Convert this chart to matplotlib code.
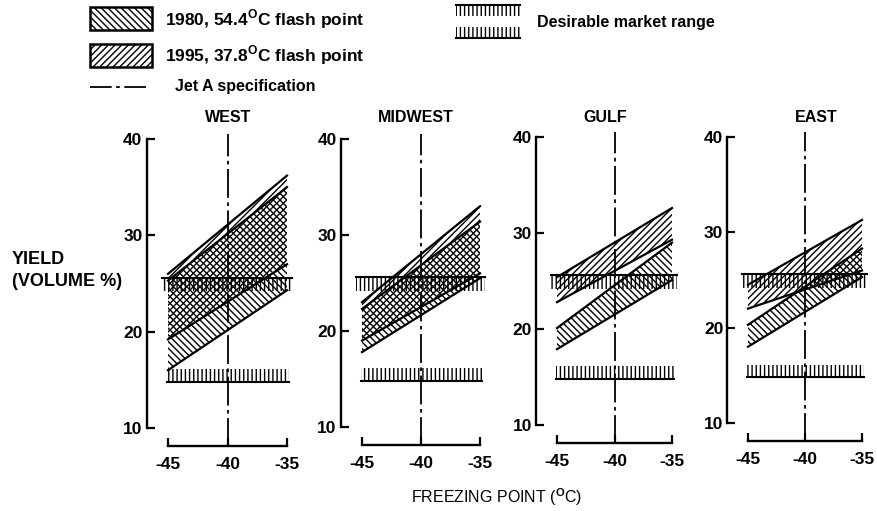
import matplotlib
matplotlib.use("Agg")
import matplotlib.pyplot as plt
from matplotlib.patches import Polygon, Rectangle

plt.rcParams["font.family"] = ["Liberation Sans", "DejaVu Sans"]
plt.rcParams["font.weight"] = "bold"
plt.rcParams["mathtext.fontset"] = "custom"
plt.rcParams["mathtext.rm"] = "Liberation Sans"
plt.rcParams["mathtext.bf"] = "Liberation Sans:bold"
plt.rcParams["axes.unicode_minus"] = False
plt.rcParams["hatch.linewidth"] = 1.0

# --- data -------------------------------------------------------------------
regions = ["WEST", "MIDWEST", "GULF", "EAST"]
freeze_ends = [-45, -35]          # freezing point (degC) where the bands start / end
x_ticks = [-45, -40, -35]
y_ticks = [10, 20, 30, 40]
jet_a_spec = -40

# yield (volume %) at -45 and -35 degC, lower / upper edge of each band
y1980_low = [(16.0, 24.3), (17.8, 25.5), (17.9, 25.1), (18.0, 25.3)]
y1980_high = [(25.3, 35.0), (22.3, 31.4), (20.1, 29.0), (20.3, 28.3)]
y1995_low = [(19.2, 27.0), (19.0, 26.0), (22.8, 29.3), (22.0, 26.0)]
y1995_high = [(26.0, 36.2), (23.0, 33.0), (25.4, 32.6), (24.5, 31.3)]

# desirable market range (volume %)
market_upper = (24.2, 25.6)
market_lower = (14.8, 16.1)

# --- layout -----------------------------------------------------------------
W, H = 877, 511
XLIM = (-46.8, -34.4)
# pixel positions of x=-45, x=-35, y=40, y=10 for every panel
panel_px = [(168, 287, 139, 428), (362, 480, 139, 427),
            (557, 672, 137, 425), (748, 862, 137, 423)]
title_x = [228, 416, 605, 816]
JET_DASH = (16, 2.5, 2, 2.5)
H1980 = "\\\\\\\\\\"
H1995 = "/////"

fig = plt.figure(figsize=(W / 100, H / 100), dpi=100)


def draw_band(ax, low, high, hatch):
    pts = [(freeze_ends[0], low[0]), (freeze_ends[1], low[1]),
           (freeze_ends[1], high[1]), (freeze_ends[0], high[0])]
    ax.add_patch(Polygon(pts, closed=True, facecolor="none", edgecolor="black",
                         linewidth=0, hatch=hatch, zorder=2))
    ax.plot(freeze_ends, low, color="black", lw=1.6, zorder=3)
    ax.plot(freeze_ends, high, color="black", lw=1.6, zorder=3)


def draw_market(ax, rng, x0, x1, line_at_top):
    ax.add_patch(Rectangle((x0, rng[0]), x1 - x0, rng[1] - rng[0], facecolor="none",
                           edgecolor="black", linewidth=0, hatch="||||", zorder=2))
    yl = rng[1] if line_at_top else rng[0]
    ax.plot([x0, x1], [yl, yl], color="black", lw=1.5, zorder=3)


for i, name in enumerate(regions):
    x45, x35, y40, y10 = panel_px[i]
    ppu = (x35 - x45) / 10.0
    left = x45 - (freeze_ends[0] - XLIM[0]) * ppu
    width = (XLIM[1] - XLIM[0]) * ppu
    ax = fig.add_axes([left / W, 1 - y10 / H, width / W, (y10 - y40) / H])
    ax.set_xlim(*XLIM)
    ax.set_ylim(10, 40)
    ax.patch.set_alpha(0)

    draw_market(ax, market_upper, -45.5, -34.6, True)
    draw_market(ax, market_lower, -45.1, -34.8, False)
    draw_band(ax, y1980_low[i], y1980_high[i], H1980)
    draw_band(ax, y1995_low[i], y1995_high[i], H1995)

    ax.plot([jet_a_spec, jet_a_spec], [8.0, 40.5], color="black", lw=1.3,
            dashes=JET_DASH, clip_on=False, zorder=4)

    for s in ("top", "right"):
        ax.spines[s].set_visible(False)
    ax.spines["left"].set_bounds(10, 40)
    ax.spines["left"].set_linewidth(1.7)
    ax.spines["bottom"].set_position(("outward", 13))
    ax.spines["bottom"].set_bounds(-45, -35)
    ax.spines["bottom"].set_linewidth(1.7)
    ax.set_xticks(x_ticks)
    ax.set_yticks(y_ticks)
    ax.tick_params(axis="both", direction="in", length=6, width=1.6, labelsize=12.5)
    ax.tick_params(axis="y", pad=3)
    ax.tick_params(axis="x", pad=8)

# --- figure-level annotations ----------------------------------------------
lax = fig.add_axes([0, 0, 1, 1])
lax.set_xlim(0, W)
lax.set_ylim(H, 0)
lax.axis("off")

lax.add_patch(Rectangle((90, 7), 62, 23, facecolor="none", edgecolor="black",
                        lw=1.8, hatch=H1980))
lax.add_patch(Rectangle((90, 44), 62, 23, facecolor="none", edgecolor="black",
                        lw=1.8, hatch=H1995))
lax.plot([90, 150], [87, 87], color="black", lw=1.3, dashes=(12, 2.5, 2, 2.5))
lax.text(165, 19, r"1980, 54.4$^{\mathbf{O}}$C flash point", va="center", fontsize=12.5)
lax.text(165, 55, r"1995, 37.8$^{\mathbf{O}}$C flash point", va="center", fontsize=12.5)
lax.text(175, 87, "Jet A specification", va="center", fontsize=11.5)

lax.add_patch(Rectangle((456, 5), 64, 11, facecolor="none", edgecolor="black",
                        lw=0, hatch="||||"))
lax.plot([456, 520], [5, 5], color="black", lw=1.5)
lax.add_patch(Rectangle((456, 27), 64, 11, facecolor="none", edgecolor="black",
                        lw=0, hatch="||||"))
lax.plot([456, 520], [38, 38], color="black", lw=1.5)
lax.text(537, 22, "Desirable market range", va="center", fontsize=11.5)

for name, tx in zip(regions, title_x):
    lax.text(tx, 118, name, ha="center", va="center", fontsize=11.5)

lax.text(12, 260, "YIELD", va="center", fontsize=13)
lax.text(12, 281, "(VOLUME %)", va="center", fontsize=13)
lax.text(497, 497, r"FREEZING POINT ($^{\mathrm{O}}$C)", ha="center", va="center",
         fontsize=11.5, fontweight="normal")

fig.savefig("out.png", dpi=100, facecolor="white")
